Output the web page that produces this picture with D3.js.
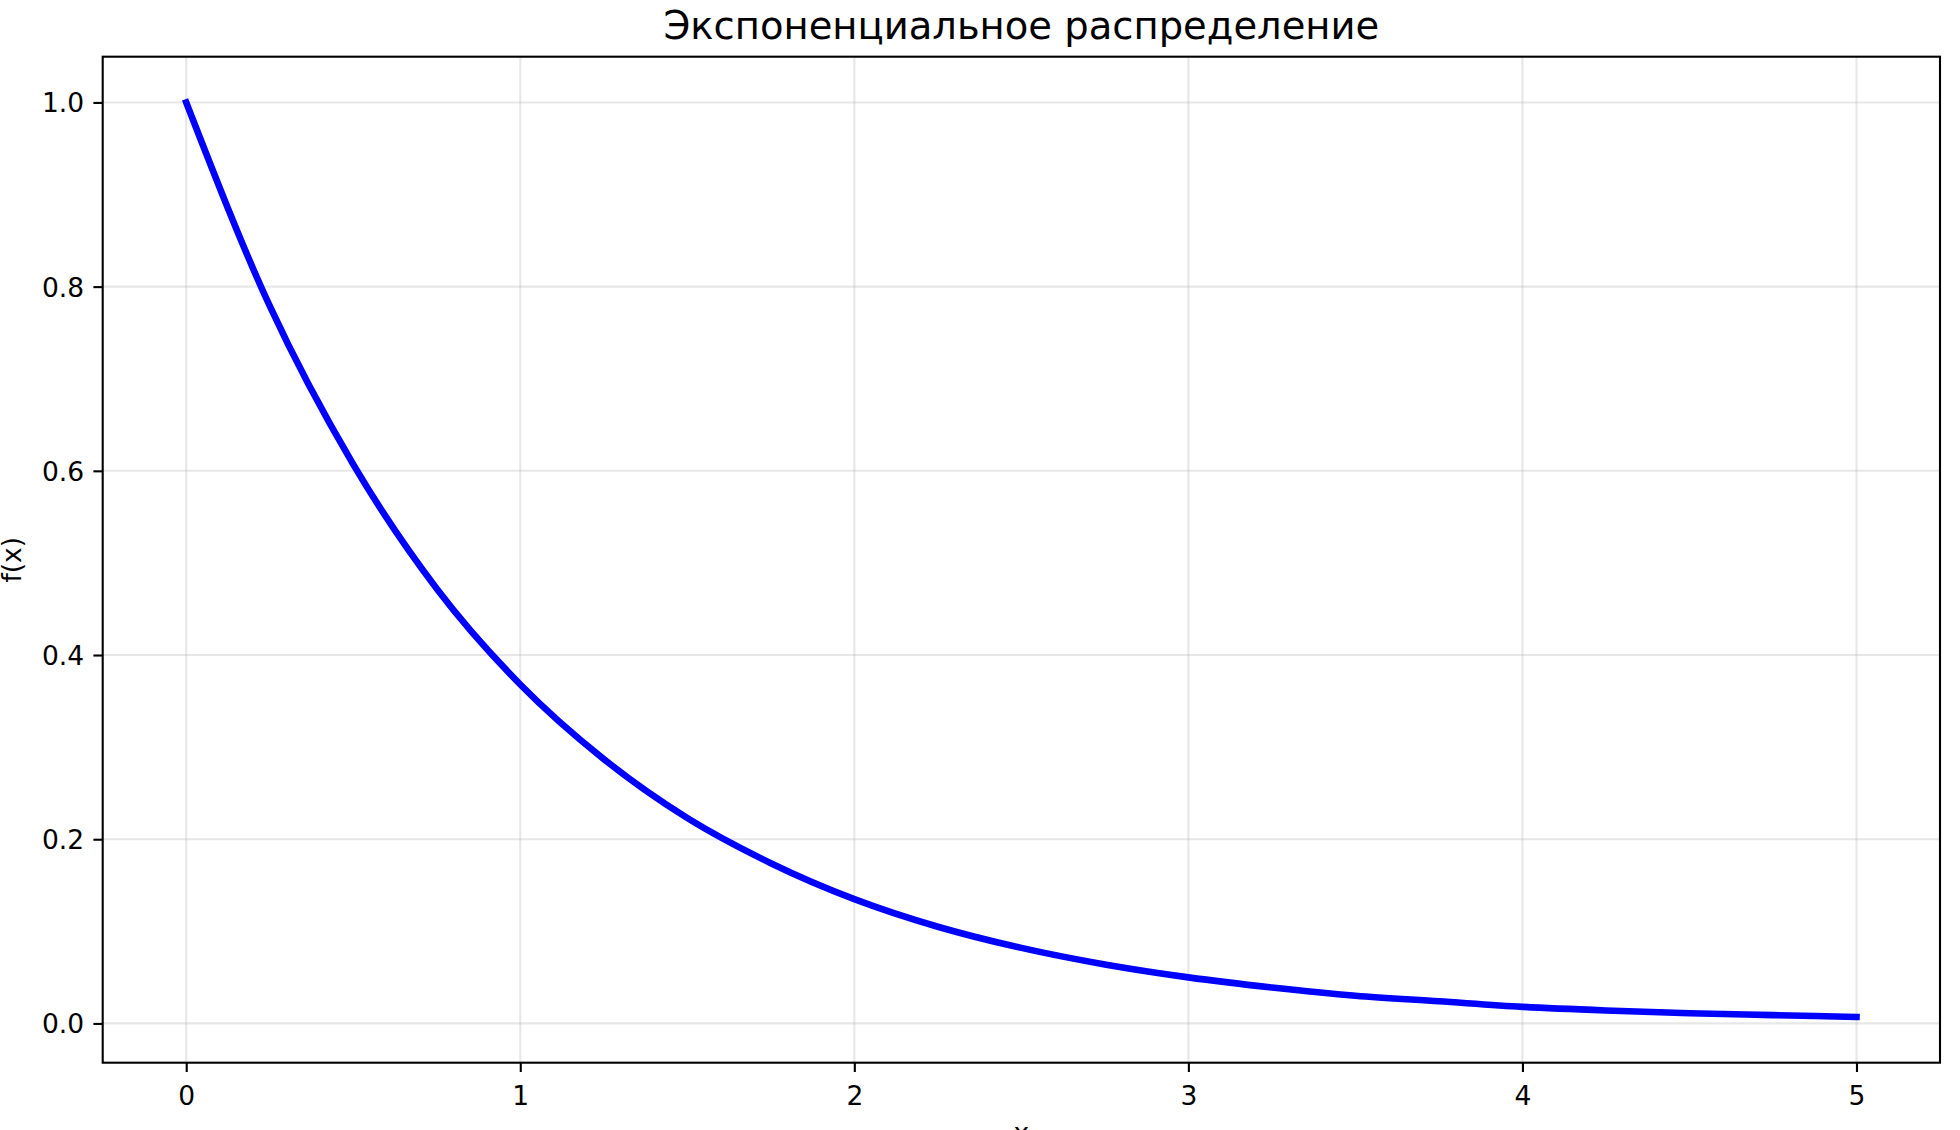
<!DOCTYPE html>
<html>
<head>
<meta charset="utf-8">
<script src="https://cdn.jsdelivr.net/npm/d3@7"></script>
<style>
  body { margin: 0; background: #fff; }
  svg { display: block; font-family: "DejaVu Sans", sans-serif; }
  .axis text { font-family: "DejaVu Sans", sans-serif; font-size: 26.5px; fill: #000; }
  .axis path, .axis line { stroke: #000; stroke-width: 2.1px; }
  .grid line { stroke: #b0b0b0; stroke-opacity: 0.3; stroke-width: 2.1px; }
</style>
</head>
<body>
<div id="chart"></div>
<script>
  // values
  var xValues = [0, 0.25, 0.5, 0.75, 1, 1.25, 1.5, 1.75, 2, 2.25, 2.5, 2.75, 3, 3.25, 3.5, 3.75, 4, 4.25, 4.5, 4.75, 5];
  var yValues = [1.000, 0.779, 0.607, 0.472, 0.368, 0.287, 0.223, 0.174, 0.135, 0.105, 0.082, 0.064, 0.050, 0.039, 0.030, 0.024, 0.018, 0.014, 0.011, 0.009, 0.007];
  var xTicks = [0, 1, 2, 3, 4, 5];
  var yTicks = [0.0, 0.2, 0.4, 0.6, 0.8, 1.0];
  var title = 'Экспоненциальное распределение';
  var xLabel = 'x';
  var yLabel = 'f(x)';

  var W = 1960, H = 1130;
  var margin = {top: 56.7, right: 20, bottom: 67.3, left: 102.7};
  var width = W - margin.left - margin.right;
  var height = H - margin.top - margin.bottom;

  var data = xValues.map(function(d, i) { return {x: d, y: yValues[i]}; });

  // matplotlib style 5% padding
  var xExt = d3.extent(xValues), yExt = d3.extent(yValues);
  var xPad = (xExt[1] - xExt[0]) * 0.05, yPad = (yExt[1] - yExt[0]) * 0.05;
  var x = d3.scaleLinear().domain([xExt[0] - xPad, xExt[1] + xPad]).range([0, width]);
  var y = d3.scaleLinear().domain([yExt[0] - yPad, yExt[1] + yPad]).range([height, 0]);

  var svg = d3.select('#chart').append('svg')
    .attr('width', W)
    .attr('height', H);

  var g = svg.append('g')
    .attr('transform', 'translate(' + margin.left + ',' + margin.top + ')');

  //grid
  g.append('g').attr('class', 'grid')
    .selectAll('line.v').data(xTicks).enter().append('line')
    .attr('x1', function(d) { return x(d); }).attr('x2', function(d) { return x(d); })
    .attr('y1', 0).attr('y2', height);
  g.append('g').attr('class', 'grid')
    .selectAll('line.h').data(yTicks).enter().append('line')
    .attr('y1', function(d) { return y(d); }).attr('y2', function(d) { return y(d); })
    .attr('x1', 0).attr('x2', width);

  //the curve
  var line = d3.line()
    .x(function(d) { return x(d.x); })
    .y(function(d) { return y(d.y); })
    .curve(d3.curveMonotoneX);

  g.append('path').datum(data)
    .attr('d', line)
    .attr('fill', 'none')
    .attr('stroke', '#0000ff')
    .attr('stroke-width', 6.6)
    .attr('stroke-linecap', 'square');

  //axes
  var xAxis = d3.axisBottom(x).tickValues(xTicks).tickFormat(d3.format('d'))
    .tickSize(9.3).tickPadding(9.3).tickSizeOuter(0);
  var yAxis = d3.axisLeft(y).tickValues(yTicks).tickFormat(d3.format('.1f'))
    .tickSize(9.3).tickPadding(9.3).tickSizeOuter(0);

  g.append('g').attr('class', 'x axis')
    .attr('transform', 'translate(0,' + height + ')')
    .call(xAxis)
    .call(function(s) { s.select('.domain').remove(); s.selectAll('text').attr('dy', '0.9em'); });

  g.append('g').attr('class', 'y axis')
    .call(yAxis)
    .call(function(s) { s.select('.domain').remove(); s.selectAll('text').attr('dy', '0.36em'); });

  //frame
  g.append('rect')
    .attr('width', width).attr('height', height)
    .attr('fill', 'none').attr('stroke', '#000').attr('stroke-width', 2.1);

  //labels
  svg.append('text')
    .attr('x', margin.left + width / 2).attr('y', 39.3)
    .attr('text-anchor', 'middle')
    .style('font-size', '38.5px')
    .text(title);

  svg.append('text')
    .attr('x', margin.left + width / 2).attr('y', 1142)
    .attr('text-anchor', 'middle')
    .style('font-size', '26.5px')
    .text(xLabel);

  svg.append('text')
    .attr('transform', 'translate(21,' + (margin.top + height / 2) + ') rotate(-90)')
    .attr('text-anchor', 'middle')
    .style('font-size', '26.5px')
    .text(yLabel);
</script>
</body>
</html>
